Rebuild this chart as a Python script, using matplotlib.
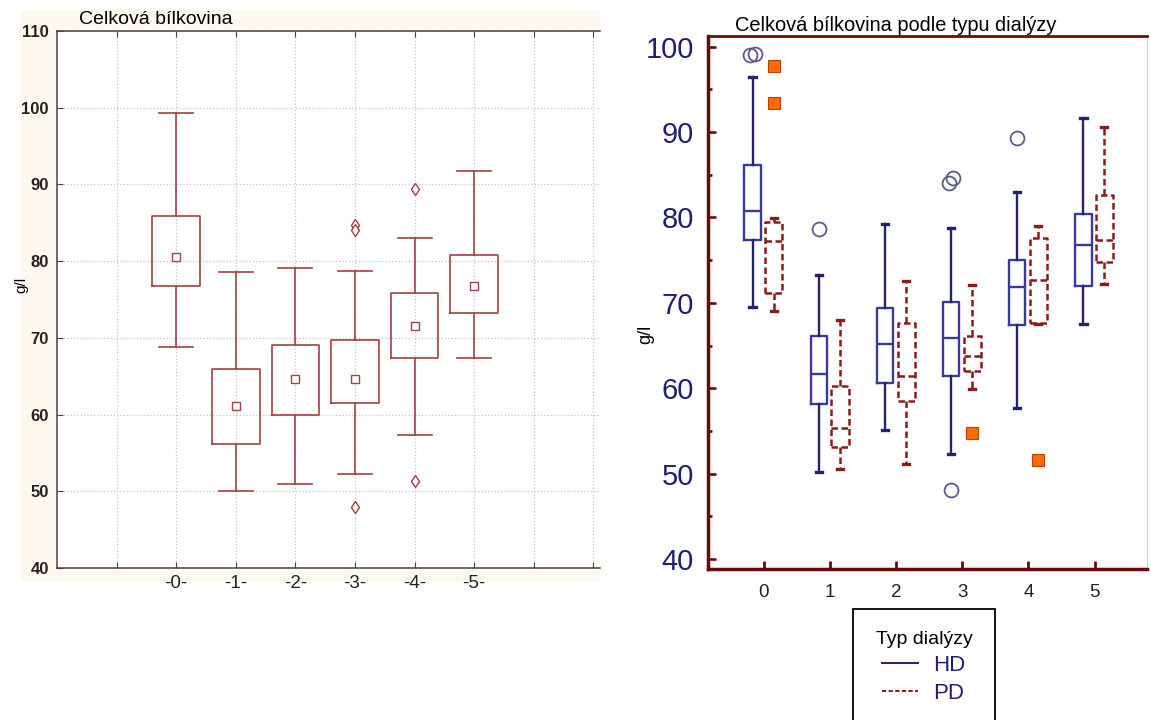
import matplotlib
matplotlib.use("Agg")
import numpy as np
import matplotlib.pyplot as plt
from matplotlib.patches import Rectangle
from matplotlib.lines import Line2D

# ---------------- data ----------------
left_title = "Celková bílkovina"
right_title = "Celková bílkovina podle typu dialýzy"
y_label = "g/l"

left_categories = ["-0-", "-1-", "-2-", "-3-", "-4-", "-5-"]
left_whislo = [68.8, 50.0, 50.9, 52.2, 57.4, 67.4]
left_q1 = [76.8, 56.1, 60.0, 61.5, 67.4, 73.2]
left_mean = [80.5, 61.1, 64.7, 64.7, 71.6, 76.8]
left_q3 = [85.9, 66.0, 69.1, 69.7, 75.9, 80.8]
left_whishi = [99.3, 78.6, 79.1, 78.7, 83.0, 91.7]
left_fliers = [[], [], [], [84.7, 84.0, 47.9], [89.4, 51.4], []]
left_yticks = [40, 50, 60, 70, 80, 90, 100, 110]

right_categories = ["0", "1", "2", "3", "4", "5"]
hd_whislo = [69.5, 50.2, 55.1, 52.3, 57.7, 67.5]
hd_q1 = [77.4, 58.1, 60.6, 61.4, 67.4, 72.0]
hd_med = [80.8, 61.7, 65.2, 65.9, 71.8, 76.8]
hd_q3 = [86.1, 66.1, 69.4, 70.1, 75.0, 80.4]
hd_whishi = [96.5, 73.3, 79.2, 78.8, 83.0, 91.6]
hd_fliers = [[99.0, 99.2], [78.6], [], [84.0, 84.6, 48.1], [89.3], []]
hd_flier_jitter = [[-0.035, 0.035], [0.0], [], [-0.035, 0.035, 0.0], [0.0], []]

pd_whislo = [69.0, 50.5, 51.1, 59.9, 67.5, 72.2]
pd_q1 = [71.1, 53.1, 58.5, 62.0, 67.6, 74.8]
pd_med = [77.2, 55.3, 61.4, 63.8, 72.7, 77.4]
pd_q3 = [79.5, 60.3, 67.6, 66.1, 77.6, 82.6]
pd_whishi = [79.9, 68.0, 72.6, 72.1, 79.0, 90.6]
pd_fliers = [[97.7, 93.4], [], [], [54.75], [51.6], []]
right_yticks = [40, 50, 60, 70, 80, 90, 100]

legend_title = "Typ dialýzy"
series_names = ["HD", "PD"]

# ---------------- style ----------------
plt.rcParams["font.family"] = ["Liberation Sans", "DejaVu Sans"]

W, H = 1151, 720
fig = plt.figure(figsize=(W / 100, H / 100), dpi=100)
fig.patch.set_facecolor("white")

def fx(px):
    return px / W

def fy(py):
    return 1 - py / H

# cream panel behind left chart
fig.patches.append(Rectangle((fx(20), fy(582)), fx(600) - fx(20), fy(10) - fy(582),
                             transform=fig.transFigure, facecolor="#fdf9ee",
                             edgecolor="none", zorder=-5))

# ---------------- left chart ----------------
red = "#a0423f"
axL = fig.add_axes([fx(57), fy(568), fx(600) - fx(57), fy(31) - fy(568)])
axL.set_facecolor("white")
statsL = []
for i in range(len(left_categories)):
    statsL.append(dict(med=left_mean[i], q1=left_q1[i], q3=left_q3[i],
                       whislo=left_whislo[i], whishi=left_whishi[i],
                       mean=left_mean[i], fliers=left_fliers[i]))
posL = np.arange(len(left_categories)) + 2
axL.bxp(statsL, positions=posL, widths=0.8, capwidths=0.57, showmeans=True,
        manage_ticks=False,
        boxprops=dict(color=red, linewidth=1.2),
        whiskerprops=dict(color=red, linewidth=1.2),
        capprops=dict(color=red, linewidth=1.2),
        medianprops=dict(linewidth=0),
        meanprops=dict(marker="s", markersize=6, markerfacecolor="white",
                       markeredgecolor=red, markeredgewidth=1.0),
        flierprops=dict(marker="d", markersize=6, markerfacecolor="white",
                        markeredgecolor=red, markeredgewidth=1.0))
axL.set_xlim(0, 9.11)
axL.set_ylim(40, 110)
axL.set_yticks(left_yticks)
axL.set_yticklabels([str(v) for v in left_yticks], fontsize=12, fontweight="bold",
                    color="#222222")
axL.set_xticks(np.arange(1, 10))
axL.set_xticklabels([""] + left_categories + ["", ""], fontsize=13.5, color="#222222")
axL.grid(True, linestyle=":", color="#c4c4c4", linewidth=0.9)
axL.set_axisbelow(True)
axL.tick_params(direction="in", length=4, top=True, right=False, color="#444444")
axL.tick_params(axis="x", pad=5)
axL.tick_params(axis="y", pad=6)
for s in ["left", "bottom", "top"]:
    axL.spines[s].set_color("#444444")
    axL.spines[s].set_linewidth(1.1)
axL.spines["right"].set_visible(False)
fig.text(fx(79), fy(24), left_title, fontsize=14, ha="left", va="baseline")
fig.text(fx(21), fy(285), y_label, fontsize=11, rotation=90, ha="center", va="center")

# ---------------- right chart ----------------
maroon = "#6b0a0a"
hd_box = "#3a3a9c"
hd_wh = "#23236e"
pd_col = "#8b1c1c"
navy = "#1f1f70"
dash = (0, (2.6, 1.4))

axR = fig.add_axes([fx(708), fy(569), fx(1147) - fx(708), fy(36) - fy(569)])
n = len(right_categories)
statsHD = [dict(med=hd_med[i], q1=hd_q1[i], q3=hd_q3[i], whislo=hd_whislo[i],
                whishi=hd_whishi[i], fliers=[]) for i in range(n)]
statsPD = [dict(med=pd_med[i], q1=pd_q1[i], q3=pd_q3[i], whislo=pd_whislo[i],
                whishi=pd_whishi[i], fliers=[]) for i in range(n)]
xc = np.arange(n)
hd_off, pd_off = -0.17, 0.15
axR.bxp(statsHD, positions=xc + hd_off, widths=0.25, capwidths=0.1, manage_ticks=False,
        boxprops=dict(color=hd_box, linewidth=1.7),
        whiskerprops=dict(color=hd_wh, linewidth=1.7),
        capprops=dict(color=hd_wh, linewidth=2.4),
        medianprops=dict(color=hd_box, linewidth=1.7))
axR.bxp(statsPD, positions=xc + pd_off, widths=0.26, capwidths=0.09, manage_ticks=False,
        boxprops=dict(color=pd_col, linewidth=1.8, linestyle=dash),
        whiskerprops=dict(color=pd_col, linewidth=1.8, linestyle=dash),
        capprops=dict(color=pd_col, linewidth=2.4),
        medianprops=dict(color=pd_col, linewidth=1.8, linestyle=dash))
for i in range(n):
    for v, j in zip(hd_fliers[i], hd_flier_jitter[i]):
        axR.plot(xc[i] + hd_off + j, v, marker="o", markersize=10, markerfacecolor="none",
                 markeredgecolor="#5a5a92", markeredgewidth=1.3, linestyle="none")
    for v in pd_fliers[i]:
        axR.plot(xc[i] + pd_off, v, marker="s", markersize=9, markerfacecolor="#ff6a00",
                 markeredgecolor="#b84000", markeredgewidth=0.8, linestyle="none")

axR.set_xlim(-0.847, 5.794)
axR.set_ylim(38.83, 101.25)
axR.set_xticks(xc)
axR.set_xticklabels(right_categories, fontsize=13.5, color="#222222")
axR.set_yticks(right_yticks)
axR.set_yticklabels([str(v) for v in right_yticks], fontsize=21, color=navy)
axR.set_yticks(np.arange(45, 100, 10), minor=True)
axR.tick_params(axis="y", which="major", direction="in", length=6, width=1.9,
                color=maroon, pad=10)
axR.tick_params(axis="y", which="minor", direction="in", length=3.2, width=1.9,
                color=maroon)
axR.tick_params(axis="x", which="major", direction="in", length=6, width=2.0,
                color=maroon, pad=11)
for s in ["left", "bottom"]:
    axR.spines[s].set_color(maroon)
    axR.spines[s].set_linewidth(2.5)
axR.spines["top"].set_color(maroon)
axR.spines["top"].set_linewidth(2.0)
axR.spines["right"].set_color("#f0c4c4")
axR.spines["right"].set_linewidth(0.8)
fig.text(fx(735), fy(31), right_title, fontsize=14.4, ha="left", va="baseline")
fig.text(fx(646), fy(334), y_label, fontsize=13, rotation=90, ha="center", va="center")

handles = [Line2D([0], [0], color=hd_wh, linewidth=1.4),
           Line2D([0], [0], color=pd_col, linewidth=1.4, linestyle=(0, (2.2, 1.2)))]
leg = fig.legend(handles, series_names, title=legend_title, loc="upper center",
                 bbox_to_anchor=(fx(924), fy(609)), borderaxespad=0,
                 fontsize=16, title_fontsize=14,
                 labelcolor=navy, frameon=True, fancybox=False, framealpha=1,
                 edgecolor="black", borderpad=1.0, handlelength=1.6,
                 handletextpad=0.7, labelspacing=0.3)
leg.get_frame().set_linewidth(1.3)

fig.savefig("out.png", dpi=100)
